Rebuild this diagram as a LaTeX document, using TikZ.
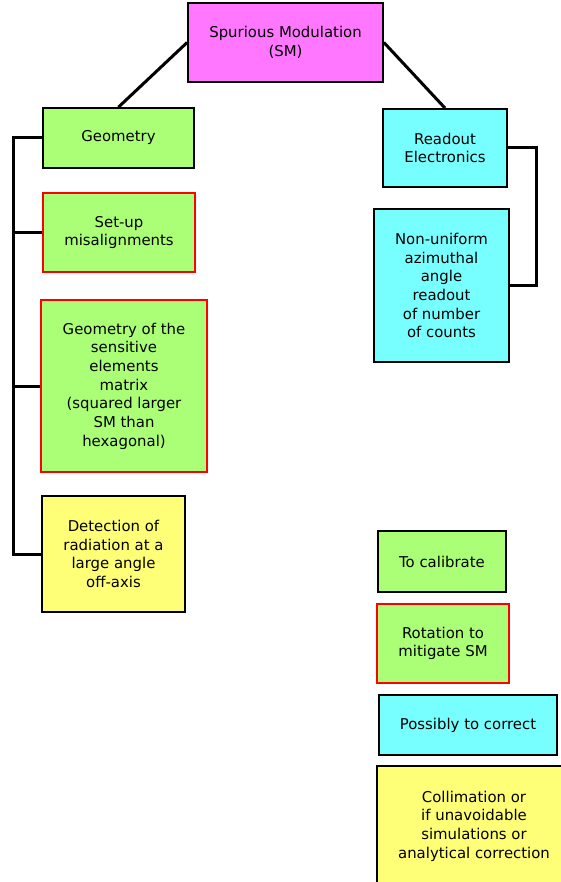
\documentclass[tikz,border=0pt]{standalone}
\usepackage{fontspec}
\newfontfamily\dvs{DejaVu Sans}
\definecolor{smmag}{RGB}{255,119,255}
\definecolor{smgreen}{RGB}{170,255,119}
\definecolor{smcyan}{RGB}{119,255,255}
\definecolor{smyellow}{RGB}{255,255,119}
\tikzset{
  box/.style={draw=black, line width=1.8pt, align=center, inner sep=0pt,
    font=\dvs\fontsize{14.9}{18.7}\selectfont},
  redbox/.style={box, draw=red, line width=2pt},
  conn/.style={draw=black, line width=3pt},
}
\begin{document}
\begin{tikzpicture}[x=1pt,y=-1pt]
\useasboundingbox (0,0) rectangle (561,882);
\node[box, fill=smmag, minimum width=195pt, minimum height=79pt] (sm) at (285.5,42.5) {Spurious Modulation\\(SM)};
\node[box, fill=smgreen, minimum width=151pt, minimum height=60pt] (geo) at (118.5,138) {Geometry};
\node[redbox, fill=smgreen, minimum width=152pt, minimum height=79pt] (setup) at (119,232.5) {Set-up\\misalignments};
\node[redbox, fill=smgreen, minimum width=166pt, minimum height=172pt] (geomat) at (124,386) {Geometry of the\\sensitive\\elements\\matrix\\(squared larger\\SM than\\hexagonal)};
\node[box, fill=smyellow, minimum width=143pt, minimum height=116pt] (det) at (113.5,554) {Detection of\\radiation at a\\large angle\\off-axis};
\node[box, fill=smcyan, minimum width=124pt, minimum height=78pt] (readout) at (445,148) {Readout\\Electronics};
\node[box, fill=smcyan, minimum width=135pt, minimum height=153pt] (nonu) at (441.5,285.5) {Non-uniform\\azimuthal\\angle\\readout\\of number\\of counts};
\node[box, fill=smgreen, minimum width=128pt, minimum height=61pt] (cal) at (442,561.5) {To calibrate};
\node[redbox, fill=smgreen, minimum width=132pt, minimum height=79pt] (rot) at (443,643.5) {Rotation to\\mitigate SM};
\node[box, fill=smcyan, minimum width=178pt, minimum height=60pt] (poss) at (468,725) {Possibly to correct};
\node[box, fill=smyellow, minimum width=194pt, minimum height=120pt] (coll) at (474,826) {Collimation or\\if unavoidable\\simulations or\\analytical correction};
\draw[conn] (sm.west) -- (geo.north);
\draw[conn] (sm.east) -- (readout.north);
\draw[conn] (geo.west) -- ++(-29,0) coordinate (bus) |- (det.west);
\draw[conn] (setup.west) -- (setup.west -| bus);
\draw[conn] (geomat.west) -- (geomat.west -| bus);
\draw[conn] (readout.east) -- ++(29,0) |- (nonu.east);
\end{tikzpicture}
\end{document}
